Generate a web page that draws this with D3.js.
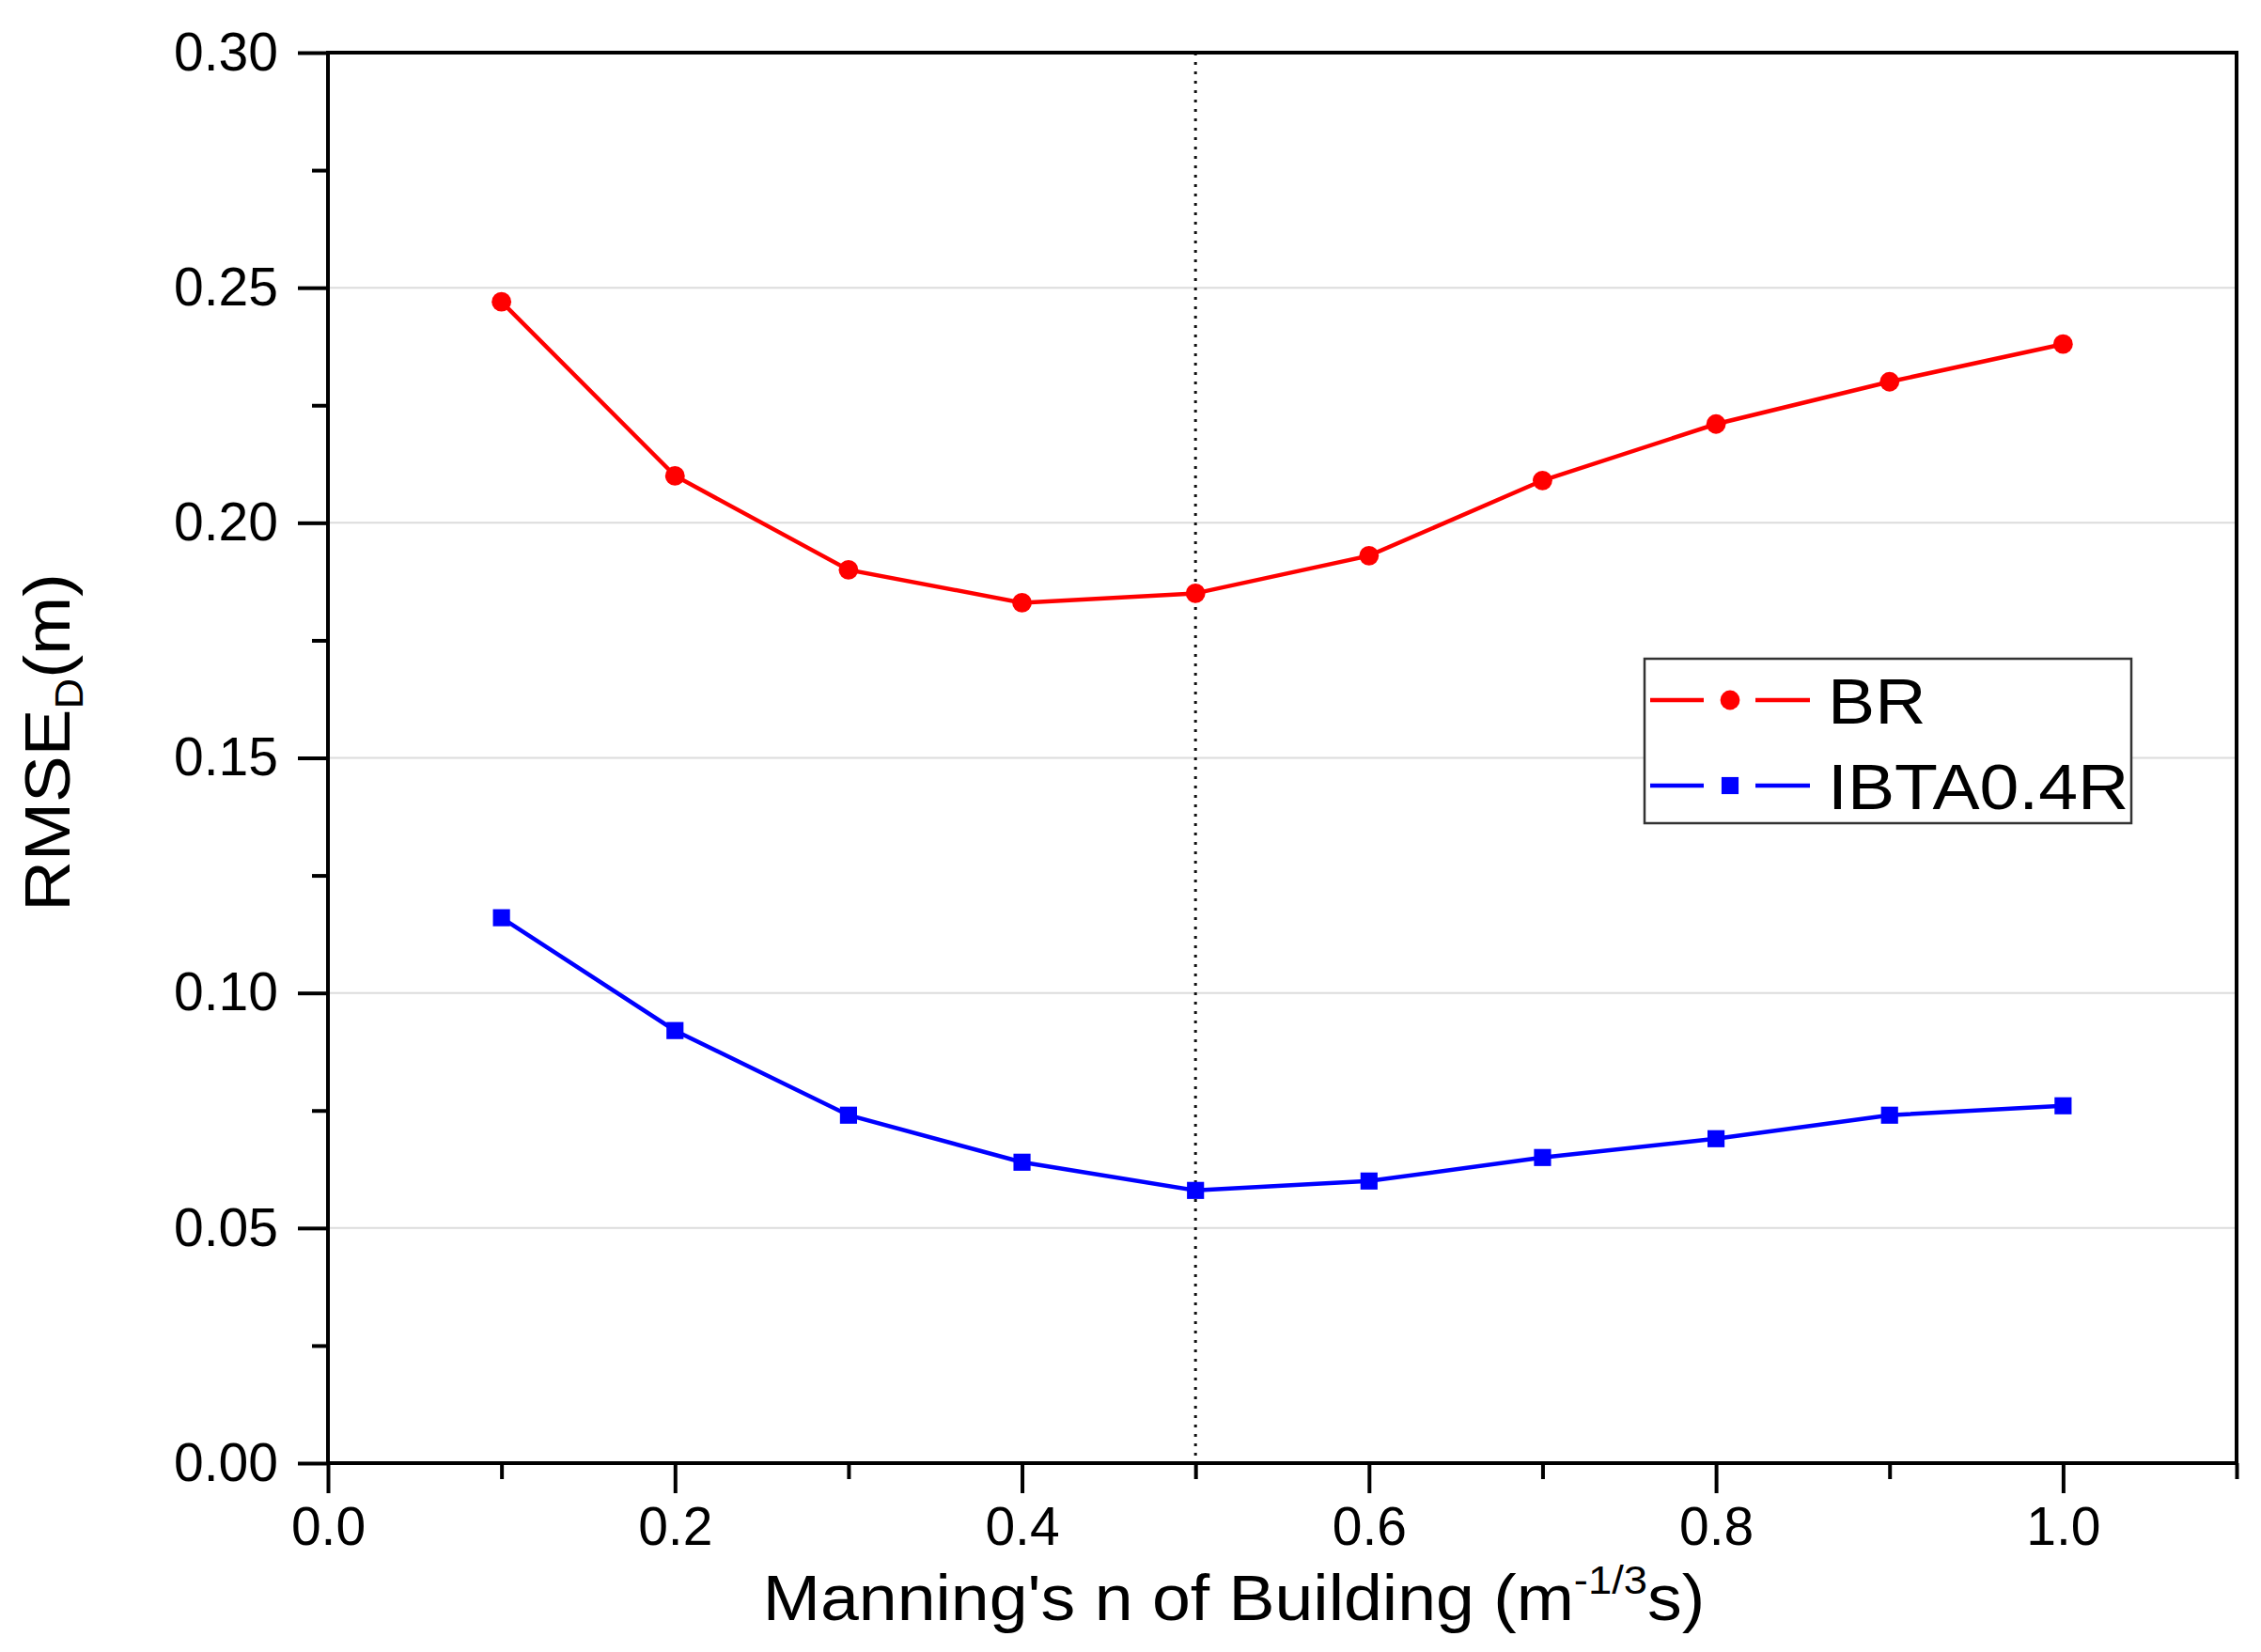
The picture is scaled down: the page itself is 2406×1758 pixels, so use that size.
<!DOCTYPE html>
<html>
<head>
<meta charset="utf-8">
<script src="https://cdn.jsdelivr.net/npm/d3@7"></script>
<style>
  body { margin: 0; background: #fff; }
  text { font-family: "Liberation Sans", Arial, sans-serif; }
</style>
</head>
<body>
<div id="wrapper"></div>
<script>
// data
const manning = [0.1, 0.2, 0.3, 0.4, 0.5, 0.6, 0.7, 0.8, 0.9, 1.0];
const brValues = [0.247, 0.210, 0.190, 0.183, 0.185, 0.193, 0.209, 0.221, 0.230, 0.238];
const ibtaValues = [0.116, 0.092, 0.074, 0.064, 0.058, 0.060, 0.065, 0.069, 0.074, 0.076];
const seriesNames = ["BR", "IBTA0.4R"];
const xMajorTicks = [0, 0.2, 0.4, 0.6, 0.8, 1.0];
const xMinorTicks = [0.1, 0.3, 0.5, 0.7, 0.9, 1.1];
const yMajorTicks = [0, 0.05, 0.10, 0.15, 0.20, 0.25, 0.30];
const yMinorTicks = [0.025, 0.075, 0.125, 0.175, 0.225, 0.275];
const markLine = 0.5;

const drawChart = () => {
  const dimensions = {
    width: 2406,
    height: 1758,
    margin: { top: 56, right: 26, bottom: 201, left: 349 }
  };
  dimensions.boundedWidth = dimensions.width - dimensions.margin.left - dimensions.margin.right;
  dimensions.boundedHeight = dimensions.height - dimensions.margin.top - dimensions.margin.bottom;

  const svg = d3.select("#wrapper")
    .append("svg")
    .attr("width", dimensions.width)
    .attr("height", dimensions.height);

  const bounds = svg.append("g")
    .attr("transform", `translate(${dimensions.margin.left},${dimensions.margin.top})`);

  // scales
  const xScale = d3.scaleLinear()
    .domain([0, 1.1])
    .range([0, dimensions.boundedWidth]);

  const yScale = d3.scaleLinear()
    .domain([0, 0.30])
    .range([dimensions.boundedHeight, 0]);

  // grid
  bounds.append("g")
    .selectAll("line")
    .data(yMajorTicks.slice(1, -1))
    .join("line")
    .attr("x1", 0)
    .attr("x2", dimensions.boundedWidth)
    .attr("y1", d => yScale(d))
    .attr("y2", d => yScale(d))
    .attr("stroke", "#dcdcdc")
    .attr("stroke-width", 2);

  // dotted line at n = 0.5
  bounds.append("line")
    .attr("x1", xScale(markLine))
    .attr("x2", xScale(markLine))
    .attr("y1", 0)
    .attr("y2", dimensions.boundedHeight)
    .attr("stroke", "#111")
    .attr("stroke-width", 3)
    .attr("stroke-dasharray", "3,7");

  // axes
  bounds.append("g")
    .call(d3.axisLeft(yScale).tickValues(yMajorTicks).tickFormat(d3.format(".2f")).tickSize(32).tickPadding(21));
  bounds.append("g")
    .call(d3.axisLeft(yScale).tickValues(yMinorTicks).tickFormat("").tickSize(17));

  bounds.append("g")
    .attr("transform", `translate(0,${dimensions.boundedHeight})`)
    .call(d3.axisBottom(xScale).tickValues(xMajorTicks).tickFormat(d3.format(".1f")).tickSize(32).tickPadding(15));
  bounds.append("g")
    .attr("transform", `translate(0,${dimensions.boundedHeight})`)
    .call(d3.axisBottom(xScale).tickValues(xMinorTicks).tickFormat("").tickSize(17));

  bounds.selectAll(".domain").remove();
  bounds.selectAll(".tick line").attr("stroke", "#000").attr("stroke-width", 4);
  bounds.selectAll(".tick text").attr("font-size", 57).attr("fill", "#000")
    .style("font-family", "'Liberation Sans', Arial, sans-serif");

  // frame
  bounds.append("rect")
    .attr("width", dimensions.boundedWidth)
    .attr("height", dimensions.boundedHeight)
    .attr("fill", "none")
    .attr("stroke", "#000")
    .attr("stroke-width", 4);

  // lines + markers
  const series = [
    { name: seriesNames[0], values: brValues, color: "#ff0000", shape: "circle" },
    { name: seriesNames[1], values: ibtaValues, color: "#0000ff", shape: "square" }
  ];

  const lineGen = d3.line()
    .x((d, i) => xScale(manning[i]))
    .y(d => yScale(d));

  const symbolFor = s => d3.symbol()
    .type(s.shape === "circle" ? d3.symbolCircle : d3.symbolSquare)
    .size(s.shape === "circle" ? 340 : 330);

  series.forEach(s => {
    bounds.append("path")
      .datum(s.values)
      .attr("d", lineGen)
      .attr("fill", "none")
      .attr("stroke", s.color)
      .attr("stroke-width", 4.5);

    bounds.append("g")
      .selectAll("path")
      .data(s.values)
      .join("path")
      .attr("transform", (d, i) => `translate(${xScale(manning[i])},${yScale(d)})`)
      .attr("d", symbolFor(s))
      .attr("fill", s.color);
  });

  // legend
  const legend = svg.append("g")
    .attr("transform", "translate(1750,701)");
  legend.append("rect")
    .attr("width", 518)
    .attr("height", 175)
    .attr("fill", "#fff")
    .attr("stroke", "#333")
    .attr("stroke-width", 2.5);

  series.forEach((s, i) => {
    const row = legend.append("g")
      .attr("transform", `translate(0,${44 + i * 91})`);
    row.append("line")
      .attr("x1", 6).attr("x2", 63).attr("y1", 0).attr("y2", 0)
      .attr("stroke", s.color).attr("stroke-width", 4.5);
    row.append("line")
      .attr("x1", 118).attr("x2", 176).attr("y1", 0).attr("y2", 0)
      .attr("stroke", s.color).attr("stroke-width", 4.5);
    row.append("path")
      .attr("transform", "translate(91,0)")
      .attr("d", symbolFor(s))
      .attr("fill", s.color);
    row.append("text")
      .attr("transform", "translate(195,25) scale(1.09,1)")
      .attr("font-size", 69)
      .attr("fill", "#000")
      .text(s.name);
  });

  // x axis title
  const xTitle = svg.append("text")
    .attr("transform", "translate(1313,1724) scale(1.08,1)")
    .attr("text-anchor", "middle")
    .attr("font-size", 68)
    .attr("fill", "#000");
  xTitle.append("tspan").text("Manning's n of Building (m");
  xTitle.append("tspan").attr("font-size", 42).attr("dy", -28).text("-1/3");
  xTitle.append("tspan").attr("dy", 28).text("s)");

  // y axis title
  const yTitle = svg.append("text")
    .attr("transform", "translate(74,790) rotate(-90) scale(1.08,1)")
    .attr("text-anchor", "middle")
    .attr("font-size", 69)
    .attr("fill", "#000");
  yTitle.append("tspan").text("RMSE");
  yTitle.append("tspan").attr("font-size", 42).attr("dy", 14).text("D");
  yTitle.append("tspan").attr("dy", -14).text("(m)");
};

drawChart();
</script>
</body>
</html>
